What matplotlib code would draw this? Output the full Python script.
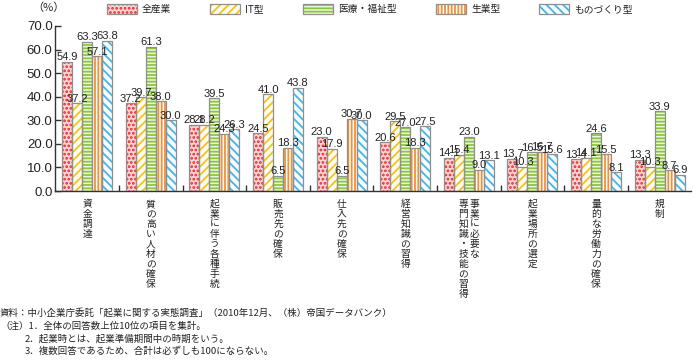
import matplotlib
matplotlib.use('Agg')
import matplotlib.pyplot as plt
import numpy as np
from matplotlib.patches import Rectangle
from matplotlib.transforms import blended_transform_factory

plt.rcParams['font.family'] = ['Noto Sans CJK JP', 'DejaVu Sans']
plt.rcParams['hatch.linewidth'] = 1.3

# ---------------- data ----------------
categories = ["資金調達", "質の高い人材の確保", "起業に伴う各種手続", "販売先の確保",
              "仕入先の確保", "経営知識の習得", "事業に必要な\n専門知識・技能の習得",
              "起業場所の選定", "量的な労働力の確保", "規制"]
series_names = ["全産業", "IT型", "医療・福祉型", "生業型", "ものづくり型"]
zensangyo = [54.9, 37.2, 28.1, 24.5, 23.0, 20.6, 14.1, 13.7, 13.4, 13.3]
it_gata = [37.2, 39.7, 28.2, 41.0, 17.9, 29.5, 15.4, 10.3, 14.1, 10.3]
iryo_fukushi = [63.3, 61.3, 39.5, 6.5, 6.5, 27.0, 23.0, 16.5, 24.6, 33.9]
seigyo = [57.1, 38.0, 24.3, 18.3, 30.7, 18.3, 9.0, 16.7, 15.5, 8.7]
monozukuri = [63.8, 30.0, 26.3, 43.8, 30.0, 27.5, 13.1, 15.6, 8.1, 6.9]
yticks = [0, 10, 20, 30, 40, 50, 60, 70]
notes = ["資料：中小企業庁委託「起業に関する実態調査」（2010年12月、（株）帝国データバンク）",
         "（注）1．全体の回答数上位10位の項目を集計。",
         "2．起業時とは、起業準備期間中の時期をいう。",
         "3．複数回答であるため、合計は必ずしも100にならない。"]

series_values = [zensangyo, it_gata, iryo_fukushi, seigyo, monozukuri]

# ---------------- styles ----------------
faces = ["#fbd3d3", "#fffdf2", "#eef6e2", "#ffffff", "#f6fbfe"]
hatch_colors = ["#e8262a", "#f7c21b", "#8cc63f", "#f0913a", "#45b5e6"]
hatches = ["....", "////", "-----", "|||||", "\\\\\\\\"]
edge_gray = "#8f8f8f"

fig = plt.figure(figsize=(6.96, 3.61), dpi=100)
W, H = 696, 361
ax = fig.add_axes([55.4 / W, (H - 191) / H, 636 / W, 165 / H])

n = len(categories)
x = np.arange(n)
bw = 0.157
for k, vals in enumerate(series_values):
    pos = x + (k - 2) * bw
    ax.bar(pos, vals, width=bw, color=faces[k], edgecolor=hatch_colors[k],
           hatch=hatches[k], linewidth=0, zorder=2)
    ax.bar(pos, vals, width=bw, fill=False, edgecolor=edge_gray, linewidth=0.9, zorder=3)
    for px, v in zip(pos, vals):
        ax.annotate(f"{v:.1f}", (px, v), xytext=(0, 1), textcoords='offset points',
                    ha='center', va='baseline', fontsize=8, family='Liberation Sans',
                    color='#222222', zorder=4)

ax.set_xlim(-0.5, n - 0.5)
ax.set_ylim(0, 70)
ax.set_yticks(yticks)
ax.set_yticklabels([f"{t:.1f}" for t in yticks], family='Liberation Sans', fontsize=9.5,
                   color='#222222')
ax.set_xticks(np.arange(n - 1) + 0.5)
ax.set_xticklabels([])
ax.tick_params(axis='both', direction='in', length=4, width=1, color='#333333')
ax.tick_params(axis='y', pad=2)
for s in ['top', 'right']:
    ax.spines[s].set_visible(False)
for s in ['left', 'bottom']:
    ax.spines[s].set_color('#333333')
    ax.spines[s].set_linewidth(1)

# vertical category labels
trans = blended_transform_factory(ax.transData, ax.transAxes)
for i, lab in enumerate(categories):
    cols = lab.split("\n")
    m = len(cols)
    for j, col in enumerate(cols):
        off = ((m - 1) / 2 - j) * 0.17
        ax.text(i + off, -8 / 165, "\n".join(col), transform=trans, ha='center', va='top',
                fontsize=7, linespacing=1.0, color='#222222')

fig.text(32 / W, 1 - 8 / H, "（%）", fontsize=8, ha='left', va='center', color='#222222')

# legend (manual)
lax = fig.add_axes([0, 0, 1, 1], facecolor='none')
lax.set_xlim(0, W)
lax.set_ylim(H, 0)
lax.axis('off')
leg_x = [107, 210, 303, 436, 539]
for k, name in enumerate(series_names):
    lax.add_patch(Rectangle((leg_x[k], 3.5), 30, 10.5, facecolor=faces[k],
                            edgecolor=hatch_colors[k], hatch=hatches[k], linewidth=0))
    lax.add_patch(Rectangle((leg_x[k], 3.5), 30, 10.5, fill=False,
                            edgecolor=edge_gray, linewidth=0.9))
    lax.text(leg_x[k] + 35, 9, name, fontsize=7, ha='left', va='center', color='#222222')

# notes
note_y = [313, 326, 339, 351]
note_x = [0, 0, 25, 25]
for t, yy, xx in zip(notes, note_y, note_x):
    fig.text(xx / W, 1 - yy / H, t, fontsize=6.8, ha='left', va='center', color='#222222')

fig.savefig("out.png", dpi=100)
